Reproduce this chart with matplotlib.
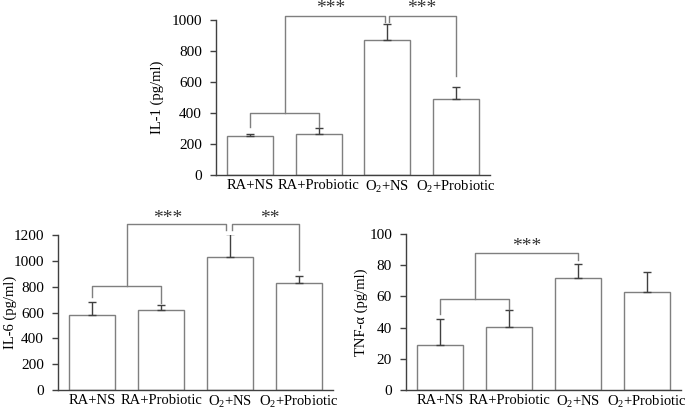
import matplotlib
matplotlib.use("Agg")
import matplotlib.pyplot as plt
import numpy as np

plt.rcParams['font.family'] = ['Liberation Serif', 'DejaVu Serif']
plt.rcParams['mathtext.fontset'] = 'custom'
plt.rcParams['mathtext.rm'] = 'Liberation Serif'
plt.rcParams['mathtext.it'] = 'Liberation Serif:italic'

groups = ['RA+NS', 'RA+Probiotic', r'O$_\mathrm{2}$+NS', r'O$_\mathrm{2}$+Probiotic']

il1_mean = [249, 264, 871, 492]
il1_err = [13, 37, 103, 78]

il6_mean = [578, 619, 1032, 831]
il6_err = [106, 42, 173, 52]

tnf_mean = [29.1, 40.5, 71.7, 62.7]
tnf_err = [16.3, 10.9, 9.2, 13.1]

W, H = 685, 411
fig = plt.figure(figsize=(W / 100, H / 100), dpi=100)

AX_C = '#404040'
BAR_C = '#7f7f7f'
BR_C = '#7f7f7f'
FS = 10.5


def px_axes(left, right, top, bottom):
    return fig.add_axes([left / W, 1 - bottom / H, (right - left) / W, (bottom - top) / H])


def panel(ax, means, errs, ymax, ystep, ylabel):
    x = np.arange(len(means))
    ax.bar(x, means, width=0.67, color='white', edgecolor=BAR_C, linewidth=1.0, zorder=2)
    ax.errorbar(x, means, yerr=[np.zeros(len(errs)), errs], fmt='none', ecolor=AX_C,
                elinewidth=1.0, capsize=3, capthick=1.0, zorder=3)
    ax.set_xlim(-0.5, 3.5)
    ax.set_ylim(0, ymax)
    ax.set_yticks(np.arange(0, ymax + 1, ystep))
    ax.set_xticks(x)
    ax.set_xticklabels(groups, fontsize=FS)
    ax.tick_params(axis='x', length=0, pad=3)
    ax.tick_params(axis='y', direction='out', length=4, width=1.0, color=AX_C, labelsize=11, pad=6)
    for s in ['top', 'right']:
        ax.spines[s].set_visible(False)
    for s in ['left', 'bottom']:
        ax.spines[s].set_color(AX_C)
        ax.spines[s].set_linewidth(1.0)
    ax.set_ylabel(ylabel, fontsize=FS)
    ax.patch.set_alpha(0)


def bracket(ax, xs, ys):
    ax.plot(xs, ys, color=BR_C, linewidth=1.0, clip_on=False, zorder=4)


def stars(ax, x, y, s):
    ax.text(x, y, s, ha='center', va='center', fontsize=14, color='#333333')


# IL-1
ax1 = px_axes(216, 490, 20, 175)
panel(ax1, il1_mean, il1_err, 1000, 200, 'IL-1 (pg/ml)')
ax1.yaxis.set_label_coords(-0.19, 0.5)
bracket(ax1, [0, 0, 1, 1], [312, 402, 402, 312])
bracket(ax1, [0.5, 0.5, 1.97, 1.97], [402, 1028, 1028, 985])
bracket(ax1, [2.03, 2.03, 3, 3], [985, 1028, 1028, 639])
stars(ax1, 1.17, 1075, '***')
stars(ax1, 2.5, 1075, '***')

# IL-6
ax2 = px_axes(58, 333, 235, 390)
panel(ax2, il6_mean, il6_err, 1200, 200, 'IL-6 (pg/ml)')
ax2.yaxis.set_label_coords(-0.15, 0.5)
bracket(ax2, [0, 0, 1, 1], [717, 805, 805, 670])
bracket(ax2, [0.5, 0.5, 1.95, 1.95], [805, 1283, 1283, 1239])
bracket(ax2, [2.03, 2.03, 3, 3], [1239, 1283, 1283, 929])
stars(ax2, 1.1, 1330, '***')
stars(ax2, 2.58, 1330, '**')

# TNF-a
ax3 = px_axes(406, 681, 234, 390)
panel(ax3, tnf_mean, tnf_err, 100, 20, 'TNF-α (pg/ml)')
ax3.yaxis.set_label_coords(-0.138, 0.5)
bracket(ax3, [0, 0, 1, 1], [49, 58.5, 58.5, 52])
bracket(ax3, [0.5, 0.5, 2, 2], [58.5, 87.6, 87.6, 83.3])
stars(ax3, 1.26, 92, '***')

fig.savefig('out.png', dpi=100)
